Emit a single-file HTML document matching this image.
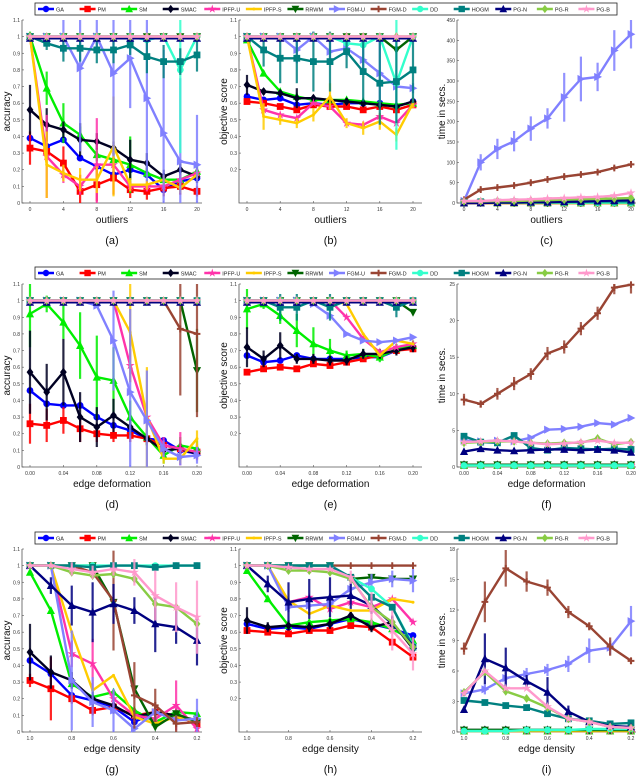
<!DOCTYPE html>
<html><head><meta charset="utf-8"><style>
html,body{margin:0;padding:0;background:#fff;width:640px;height:776px;overflow:hidden}
svg{display:block;font-family:"Liberation Sans",sans-serif}
</style></head><body>
<svg id="fig" width="640" height="776" viewBox="0 0 640 776"></svg>
<script>
// ---------- data ----------
const methods = ["GA","PM","SM","SMAC","IPFP-U","IPFP-S","RRWM","FGM-U","FGM-D","DD","HOGM","PG-N","PG-R","PG-B"];
const xOutliers = [0,2,4,6,8,10,12,14,16,18,20];
const xDeform = [0,0.02,0.04,0.06,0.08,0.10,0.12,0.14,0.16,0.18,0.20];
const xDensity = [1.0,0.9,0.8,0.7,0.6,0.5,0.4,0.3,0.2];
const one11 = [1,1,1,1,1,1,1,1,1,1,1];
const one9 = [1,1,1,1,1,1,1,1,1];
const low11 = [0.2,0.2,0.2,0.2,0.2,0.2,0.2,0.2,0.2,0.2,0.2];
const low9 = [0.15,0.15,0.15,0.15,0.15,0.15,0.15,0.15,0.15];

const accA = {
 "GA":[.39,.34,.38,.27,.22,.17,.20,.17,.08,.13,.15],
 "PM":[.33,.31,.24,.07,.11,.15,.08,.07,.09,.10,.07],
 "SM":[1,.69,.48,.41,.29,.26,.23,.18,.14,.14,.19],
 "SMAC":[.56,.47,.44,.38,.37,.33,.26,.24,.16,.20,.16],
 "IPFP-U":[1,.28,.17,.10,.23,.23,.10,.10,.10,.14,.18],
 "IPFP-S":[1,.23,.18,.14,.14,.34,.11,.11,.14,.09,.17],
 "RRWM":one11,"FGM-U":[1,1,1,.81,1,.78,.87,.63,.42,.25,.23],"FGM-D":one11,
 "DD":[1,1,1,1,1,1,1,.98,1,.80,1],"HOGM":[1,.96,.93,.93,.92,.92,.95,.88,.85,.85,.89],
 "PG-N":[.99,.99,.99,.99,.99,.99,.99,.99,.99,.99,.99],"PG-R":one11,"PG-B":one11};
const errA = {"FGM-U":[0,0,.1,.5,.1,.5,.3,.5,.5,.5,.3],"DD":[0,0,0,0,0,0,0,0,0,.5,0],"HOGM":[0,.04,.08,.08,.08,.08,.06,.1,.1,.08,.1],"SMAC":[.15,.1,.05,.1,.05,.04,.12,.06,.04,.04,.04],"PM":[.1,.05,.1,.1,.1,.1,.05,.05,.05,.05,.03],"SM":[.03,.1,.12,.05,.04,.04,.17,.03,.03,.03,.03],"IPFP-S":[0,.2,.05,.07,.08,.3,.04,.03,.03,.03,.03],"IPFP-U":[0,.25,.05,.05,.28,.1,.03,.03,.03,.03,.03]};
const objB = {
 "GA":[.64,.62,.63,.59,.60,.59,.60,.60,.60,.58,.61],
 "PM":[.61,.60,.58,.56,.59,.58,.58,.56,.58,.56,.59],
 "SM":[.98,.78,.67,.64,.62,.62,.62,.61,.60,.59,.60],
 "SMAC":[.71,.67,.66,.63,.63,.62,.61,.60,.59,.58,.61],
 "IPFP-U":[1,.56,.53,.51,.60,.58,.48,.47,.52,.48,.59],
 "IPFP-S":[1,.52,.50,.48,.53,.64,.48,.45,.49,.41,.60],
 "RRWM":[1,1,1,1,1,1,1,1,1,.92,1],"FGM-U":[1,1,1,.92,1,.91,.93,.86,.78,.70,.69],"FGM-D":one11,
 "DD":[1,1,1,1,1,1,.96,.95,1,.72,1],"HOGM":[1,.92,.87,.87,.85,.85,.91,.79,.72,.73,.80],
 "PG-N":[.99,.99,.99,.99,.99,.99,.99,.99,.99,.99,.99],"PG-R":one11,"PG-B":one11};
const errB = {"HOGM":[0,.1,.15,.15,.18,.18,.1,.18,.25,.25,.2],"DD":[0,0,0,0,0,0,.03,.03,0,.4,0],"FGM-U":[0,0,0,.08,.03,.06,.05,.07,.2,.1,.03],"IPFP-S":[0,.08,.03,.03,.04,.08,.03,.04,.05,.04,.03],"SMAC":[.06,.02,.02,.06,.02,.02,.02,.02,.02,.02,.02]};
const timeC = {
 "GA":[0,0,0,0,0,0,0,0,0,0,0],"PM":[0,0,0,0,0,0,0,0,0,0,0],"SM":[0,0,0,0,0,0,0,0,0,0,0],
 "SMAC":[1,1,1,1,1,1,1,1,2,2,2],"IPFP-U":[0,0,0,0,0,0,0,0,0,0,0],"IPFP-S":[0,0,0,0,0,0,0,0,0,0,0],
 "RRWM":[1,1,1,1,1,1,1,1,1,1,1],"FGM-U":[5,100,133,152,183,208,260,305,310,375,415],
 "FGM-D":[8,33,38,43,50,58,65,70,76,86,95],"DD":[1,1,1,1,1,1,1,1,1,1,1],
 "HOGM":[2,3,2,3,3,3,3,3,4,4,4],"PG-N":[0,0,1,1,2,2,3,4,5,6,7],
 "PG-R":[4,4,5,5,6,7,8,9,10,11,12],"PG-B":[5,5,7,8,9,11,12,14,15,18,25]};
const errC = {"FGM-U":[0,20,25,25,30,25,60,55,35,50,35],"FGM-D":[0,5,5,5,5,5,5,5,5,5,5]};
const accD = {
 "GA":[.46,.38,.37,.37,.30,.25,.22,.17,.16,.10,.08],
 "PM":[.26,.25,.28,.23,.20,.19,.19,.17,.13,.11,.09],
 "SM":[.92,.98,.87,.73,.54,.52,.30,.18,.07,.13,.11],
 "SMAC":[.57,.45,.57,.30,.24,.31,.24,.17,.10,.11,.08],
 "IPFP-U":[1,1,1,1,1,1,.61,.30,.13,.11,.09],
 "IPFP-S":[1,1,1,1,1,1,.81,.30,.05,.05,.17],
 "RRWM":[1,1,1,1,1,1,1,1,1,1,.58],
 "FGM-U":[1,1,1,1,.97,.76,.45,.28,.11,.06,.07],
 "FGM-D":[1,1,1,1,1,1,1,1,1,.83,.80],
 "DD":one11,"HOGM":one11,"PG-N":[.99,.99,.99,.99,.99,.99,.99,.99,.99,.99,.99],"PG-R":one11,"PG-B":one11};
const errD = {"SMAC":[.25,.17,.2,.15,.12,.1,.05,.04,.03,.03,.03],"PM":[.12,.1,.08,.08,.05,.04,.04,.03,.03,.03,.03],"SM":[.2,.05,.1,.2,.25,.2,.1,.05,.05,.05,.05],"FGM-U":[0,0,0,0,0,.3,.5,.3,.05,.05,.05],"FGM-D":[0,0,0,0,0,0,0,0,0,.4,.5],"RRWM":[0,0,0,0,0,0,0,0,0,0,.25],"IPFP-U":[0,0,0,0,0,0,.1,.1,.05,.1,.05],"IPFP-S":[0,0,0,0,0,0,.3,.3,.03,.03,.05]};
const objE = {
 "GA":[.67,.63,.64,.67,.65,.65,.65,.66,.66,.70,.72],
 "PM":[.57,.59,.60,.59,.62,.61,.63,.65,.67,.70,.71],
 "SM":[.95,.98,.91,.82,.74,.70,.67,.68,.66,.71,.73],
 "SMAC":[.72,.65,.73,.65,.65,.64,.64,.68,.68,.70,.72],
 "IPFP-U":[1,1,1,1,1,1,.90,.77,.69,.72,.74],
 "IPFP-S":[1,1,1,1,1,1,.98,.80,.67,.76,.74],
 "RRWM":[1,1,1,1,1,1,1,1,1,1,.93],
 "FGM-U":[1,1,1,1,.98,.91,.80,.76,.75,.76,.78],
 "FGM-D":one11,"DD":one11,"HOGM":[1,1,.96,.96,1,.96,1,1,1,.96,1],
 "PG-N":[.99,.99,.99,.99,.99,.99,.99,.99,.99,.99,.99],"PG-R":one11,"PG-B":one11};
const errE = {"SMAC":[.12,.05,.08,.03,.03,.03,.03,.03,.03,.03,.03],"SM":[.12,.03,.05,.1,.1,.07,.03,.03,.03,.03,.03],"HOGM":[0,0,.08,.08,0,.08,0,0,0,.06,0]};
const timeF = {
 "GA":[.2,.2,.2,.2,.2,.2,.2,.2,.2,.2,.2],"PM":low11,"SM":low11,"SMAC":[.3,.3,.3,.3,.3,.3,.3,.3,.3,.3,.3],
 "IPFP-U":low11,"IPFP-S":low11,"RRWM":[.3,.3,.3,.3,.3,.3,.3,.3,.3,.3,.3],
 "FGM-U":[3.6,3.5,3.6,3.5,4,5.1,5.2,5.5,6,5.8,6.7],
 "FGM-D":[9.2,8.6,10,11.4,12.7,15.5,16.4,18.9,21,24.5,24.9],"DD":low11,
 "HOGM":[4.2,3.4,3.3,4.3,2.6,2.3,2.6,2.5,2.4,2.5,2.4],
 "PG-N":[2.1,2.5,2.3,2.2,2.3,2.4,2.4,2.3,2.4,2.3,2],
 "PG-R":[3.3,3.4,3.5,3.5,3.3,3.2,3.3,3.3,3.9,3.1,3.4],
 "PG-B":[3.4,3.5,3.6,3.5,3.3,3.1,3.2,3.4,3.6,3.3,3.3]};
const errF = {"FGM-D":[.8,.5,.8,.9,.8,.9,.9,.9,.9,.9,1.2]};
const accG = {
 "GA":[.43,.35,.22,.19,.15,.06,.12,.08,.07],"PM":[.31,.26,.20,.13,.15,.10,.12,.10,.05],
 "SM":[.96,.73,.29,.21,.24,.13,.06,.12,.11],"SMAC":[.48,.36,.31,.20,.16,.09,.12,.10,.07],
 "IPFP-U":[1,1,.47,.41,.20,.10,.08,.16,.02],"IPFP-S":[1,1,.60,.25,.34,.09,.05,.09,.06],
 "RRWM":[1,1,1,1,.78,.26,.03,.11,.06],"FGM-U":[1,1,.31,.18,.13,.02,.12,.07,.08],
 "FGM-D":[1,1,1,.96,.79,.22,.16,.05,.06],"DD":one9,"HOGM":[1,1,1,.99,1,1,.99,1,1],
 "PG-N":[1,.88,.76,.72,.77,.73,.65,.63,.55],"PG-R":[1,1,.96,.94,.95,.92,.77,.75,.65],
 "PG-B":[1,1,.98,.96,.98,.96,.82,.75,.69]};
const errG = {"PG-N":[0,.05,.12,.18,.12,.08,.17,.1,.15],"PG-B":[0,0,.04,.04,.04,.08,.15,.15,.22],"FGM-D":[0,0,0,0,.3,.2,.1,.05,.03],"FGM-U":[0,0,.3,.15,.13,.02,.05,.03,.12],"SMAC":[.17,.1,.05,.05,.05,.04,.04,.04,.04],"PM":[.04,.19,.03,.03,.03,.03,.03,.03,.03],"IPFP-U":[0,0,.08,.15,.05,.04,.05,.15,.02]};
const objH = {
 "GA":[.65,.62,.63,.62,.65,.68,.65,.62,.58],"PM":[.61,.60,.59,.61,.61,.64,.63,.54,.45],
 "SM":[.97,.80,.64,.66,.67,.68,.66,.62,.55],"SMAC":[.67,.63,.64,.63,.65,.70,.63,.66,.50],
 "IPFP-U":[1,1,.78,.81,.74,.78,.75,.80,.66],"IPFP-S":[1,1,.79,.71,.76,.73,.73,.80,.78],
 "RRWM":[1,1,1,1,1,.92,.93,.92,.92],"FGM-U":[1,1,.75,.76,.77,.86,.90,.92,.91],
 "FGM-D":one9,"DD":[1,1,1,1,1,.93,.86,.75,.52],"HOGM":[1,1,1,1,1,.93,.81,.75,.51],
 "PG-N":[1,.89,.78,.80,.81,.82,.76,.65,.52],"PG-R":[1,1,.97,.97,.96,.92,.75,.66,.51],
 "PG-B":[1,1,.99,.98,.98,.93,.74,.61,.47]};
const errH = {"PG-N":[0,.05,.12,.12,.12,.08,.05,.05,.05],"PG-B":[0,0,0,0,0,.04,.1,.12,.1],"SMAC":[.08,.03,.03,.03,.03,.03,.03,.03,.03],"FGM-U":[0,0,.03,.03,.03,.05,.05,.05,.07]};
const timeI = {
 "GA":[.1,.1,.1,.1,.1,.1,.1,.1,.1],"PM":[.1,.1,.1,.1,.1,.1,.1,.1,.1],"SM":[.1,.1,.1,.1,.1,.1,.1,.1,.1],
 "SMAC":[.2,.2,.2,.2,.2,.2,.2,.2,.2],"IPFP-U":[.1,.1,.1,.1,.1,.1,.1,.1,.1],"IPFP-S":[.1,.1,.1,.1,.1,.1,.1,.1,.1],
 "RRWM":[.2,.2,.2,.2,.2,.2,.2,.2,.2],"FGM-U":[3.8,4.2,5.3,5.7,6.1,6.7,8,8.3,10.9],
 "FGM-D":[8.2,12.8,16.1,14.8,14.2,11.8,10.4,8.4,7],"DD":[.1,.1,.1,.2,.2,.2,.3,.3,.3],
 "HOGM":[3.1,2.9,2.6,2.4,1.8,1.3,1.1,0.8,0.9],"PG-N":[2.2,7.2,6.3,5,3.9,2,1,0.6,0.5],
 "PG-R":[3.9,5.9,4,3.3,2.4,1.3,1,0.5,0.4],"PG-B":[3.8,6,4.3,4.3,2.5,1.3,1,0.5,0.4]};
const errI = {"FGM-D":[.6,2,1.8,1,.8,.6,.4,.9,.3],"PG-N":[.2,2.5,2,.6,1.5,.6,.3,.2,.2],"FGM-U":[.3,.5,.6,.6,.6,.8,1.2,.7,1.5]};

const accTicks = [0,0.1,0.2,0.3,0.4,0.5,0.6,0.7,0.8,0.9,1,1.1];
const objTicks = [0.2,0.3,0.4,0.5,0.6,0.7,0.8,0.9,1,1.1];
const timeTicksC = [0,50,100,150,200,250,300,350,400,450];
const timeTicksF = [0,5,10,15,20,25];
const timeTicksI = [0,3,6,9,12,15,18];
const xTicksOut = [0,4,8,12,16,20];
const xTicksDef = [0,0.04,0.08,0.12,0.16,0.20];
const xTicksDen = [1.0,0.8,0.6,0.4,0.2];

// ---------- style ----------
const colors = {"GA":"#0000ff","PM":"#ff0000","SM":"#00ee00","SMAC":"#000022","IPFP-U":"#ff33aa","IPFP-S":"#ffcc00","RRWM":"#006400","FGM-U":"#8080ff","FGM-D":"#994433","DD":"#33ffcc","HOGM":"#008080","PG-N":"#000080","PG-R":"#88cc44","PG-B":"#ff99cc"};
const markers = {"GA":"o","PM":"s","SM":"^","SMAC":"d","IPFP-U":"*","IPFP-S":".","RRWM":"v","FGM-U":">","FGM-D":"+","DD":"o","HOGM":"s","PG-N":"^","PG-R":"d","PG-B":"*"};
const NS = "http://www.w3.org/2000/svg";
const svg = document.getElementById("fig");
function mk(tag, attrs, parent){const e=document.createElementNS(NS,tag);for(const k in attrs)e.setAttribute(k,attrs[k]);(parent||svg).appendChild(e);return e;}

function marker(g, m, x, y, c, s){
  let e;
  if(m==="o"){e=mk("circle",{cx:x,cy:y,r:s,fill:c},g);}
  else if(m==="s"){e=mk("rect",{x:x-s,y:y-s,width:2*s,height:2*s,fill:c},g);}
  else if(m==="^"){e=mk("polygon",{points:`${x},${y-s*1.3} ${x-s*1.2},${y+s} ${x+s*1.2},${y+s}`,fill:c},g);}
  else if(m==="v"){e=mk("polygon",{points:`${x},${y+s*1.3} ${x-s*1.2},${y-s} ${x+s*1.2},${y-s}`,fill:c},g);}
  else if(m===">"){e=mk("polygon",{points:`${x+s*1.3},${y} ${x-s},${y-s*1.2} ${x-s},${y+s*1.2}`,fill:c},g);}
  else if(m==="d"){e=mk("polygon",{points:`${x},${y-s*1.3} ${x+s},${y} ${x},${y+s*1.3} ${x-s},${y}`,fill:c},g);}
  else if(m==="*"){let p=[];for(let i=0;i<10;i++){const r=i%2?s*0.5:s*1.4;const a=-Math.PI/2+i*Math.PI/5;p.push((x+r*Math.cos(a)).toFixed(1)+","+(y+r*Math.sin(a)).toFixed(1));}e=mk("polygon",{points:p.join(" "),fill:c},g);}
  else if(m==="+"){e=mk("path",{d:`M${x-s} ${y}H${x+s}M${x} ${y-s}V${y+s}`,stroke:c,"stroke-width":2},g);}
  else {e=mk("circle",{cx:x,cy:y,r:1.5,fill:c},g);}
  
  
}

function legend(y0, id){
  const g=mk("g",{});
  
  
  const b=mk("rect",{x:35,y:y0,width:582,height:12,fill:"#fff",stroke:"#222","stroke-width":0.8},g);
  
  
  const w=582/14;
  methods.forEach((m,i)=>{
    const x=35+i*w;
    const eg=mk("g",{},g);
    
    
    mk("line",{x1:x+3,x2:x+19,y1:y0+6,y2:y0+6,stroke:colors[m],"stroke-width":2.5},eg);
    marker(eg,markers[m],x+11,y0+6,colors[m],3.2);
    const t=mk("text",{x:x+21,y:y0+8.5,"font-size":5.5,fill:"#222"},eg);
    t.textContent=m;
  });
}

function panel(p){
  const g=mk("g",{});
  
  
  const sx=v=>p.x0+(v-p.xs[0])/(p.xs[p.xs.length-1]-p.xs[0])*(p.xN-p.x0);
  const sy=v=>p.yb-(v-p.ymin)/(p.ymax-p.ymin)*(p.yb-p.yt);
  const ax=mk("path",{d:`M${p.L} ${p.yt}V${p.yb}H${p.R}`,stroke:"#555",fill:"none","stroke-width":0.8},g);
  
  
  p.yticks.forEach(v=>{
    const y=sy(v);
    mk("line",{x1:p.L,x2:p.L+2,y1:y,y2:y,stroke:"#555","stroke-width":0.6},g);
    const t=mk("text",{x:p.L-2,y:y+2,"font-size":5,"text-anchor":"end",fill:"#333"},g);
    
    
    t.textContent=p.yfmt(v);
  });
  p.xticks.forEach(v=>{
    const x=sx(v);
    mk("line",{x1:x,x2:x,y1:p.yb,y2:p.yb-2,stroke:"#555","stroke-width":0.6},g);
    const t=mk("text",{x:x,y:p.yb+8,"font-size":5,"text-anchor":"middle",fill:"#333"},g);
    
    
    t.textContent=p.xfmt(v);
  });
  const xl=mk("text",{x:(p.L+p.R)/2,y:p.yb+20,"font-size":10,"text-anchor":"middle",fill:"#111"},g);
  
  
  xl.textContent=p.xlabel;
  const cy=(p.yt+p.yb)/2;
  const yl=mk("text",{x:p.L-12,y:cy,"font-size":10,"text-anchor":"middle",fill:"#111",transform:`rotate(-90 ${p.L-12} ${cy})`},g);
  
  
  yl.textContent=p.ylabel;
  const cap=mk("text",{x:(p.L+p.R)/2,y:p.yb+41,"font-size":11,"text-anchor":"middle",fill:"#111"},g);
  
  
  cap.textContent="("+p.id+")";
  methods.forEach(m=>{
    const vals=p.data[m]; if(!vals) return;
    const sg=mk("g",{},g);
    
    
    const er=p.err[m];
    if(er){vals.forEach((v,i)=>{if(er[i]>0){const l=mk("line",{x1:sx(p.xs[i]),x2:sx(p.xs[i]),y1:sy(Math.max(p.ymin,v-er[i])),y2:sy(Math.min(p.ymax,v+er[i])),stroke:colors[m],"stroke-width":2.2,opacity:0.85},sg);
      
      }});}
    const pts=vals.map((v,i)=>sx(p.xs[i]).toFixed(1)+","+sy(v).toFixed(1)).join(" ");
    const pl=mk("polyline",{points:pts,fill:"none",stroke:colors[m],"stroke-width":2.4,"stroke-linejoin":"round"},sg);
    
    
    vals.forEach((v,i)=>marker(sg,markers[m],sx(p.xs[i]),sy(v),colors[m],3.4));
  });
}

const f1=v=>v===0?"0":(v===1?"1":v.toFixed(1));
const fi=v=>String(v);
const rows=[0,264,529];
const cols=[{L:22,R:202,x0:30,xN:197},{L:239,R:422,x0:247,xN:413},{L:457,R:636,x0:464,xN:631}];
const specs=[
 [{id:"a",data:accA,err:errA,ymin:0,ymax:1.1,yticks:accTicks,yfmt:f1,ylabel:"accuracy"},
  {id:"b",data:objB,err:errB,ymin:0,ymax:1.1,yticks:objTicks,yfmt:f1,ylabel:"objective score"},
  {id:"c",data:timeC,err:errC,ymin:0,ymax:450,yticks:timeTicksC,yfmt:fi,ylabel:"time in secs."}],
 [{id:"d",data:accD,err:errD,ymin:0,ymax:1.1,yticks:accTicks,yfmt:f1,ylabel:"accuracy"},
  {id:"e",data:objE,err:errE,ymin:0,ymax:1.1,yticks:objTicks,yfmt:f1,ylabel:"objective score"},
  {id:"f",data:timeF,err:errF,ymin:0,ymax:25,yticks:timeTicksF,yfmt:fi,ylabel:"time in secs."}],
 [{id:"g",data:accG,err:errG,ymin:0,ymax:1.1,yticks:accTicks,yfmt:f1,ylabel:"accuracy"},
  {id:"h",data:objH,err:errH,ymin:0,ymax:1.1,yticks:objTicks,yfmt:f1,ylabel:"objective score"},
  {id:"i",data:timeI,err:errI,ymin:0,ymax:18,yticks:timeTicksI,yfmt:fi,ylabel:"time in secs."}]];
const rowX=[
 {xs:xOutliers,xticks:xTicksOut,xfmt:fi,xlabel:"outliers"},
 {xs:xDeform,xticks:xTicksDef,xfmt:v=>v.toFixed(2),xlabel:"edge deformation"},
 {xs:xDensity,xticks:xTicksDen,xfmt:v=>v.toFixed(1),xlabel:"edge density"}];
rows.forEach((off,r)=>{
  legend(3+off, r+1);
  specs[r].forEach((s,c)=>{
    panel(Object.assign({},s,cols[c],rowX[r],{yt:20+off,yb:203+off}));
  });
});
</script>
</body></html>
